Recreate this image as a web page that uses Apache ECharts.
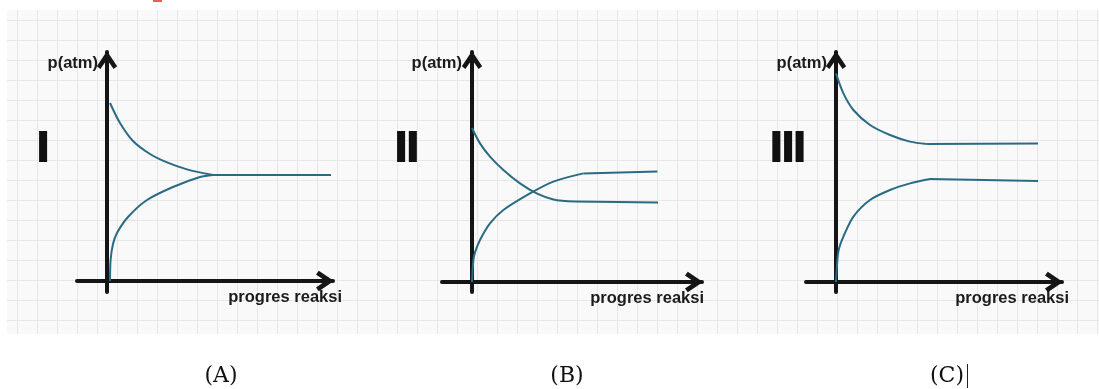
<!DOCTYPE html>
<html>
<head>
<meta charset="utf-8">
<title>progres reaksi</title>
<script src="https://cdn.jsdelivr.net/npm/echarts@6/dist/echarts.min.js"></script>
<style>
    html, body { margin: 0; padding: 0; background: #fff; }
    #wrap { position: relative; width: 1099px; height: 389px; overflow: hidden; }
    /* kertas berpetak di belakang grafik */
    #paper {
        position: absolute; left: 7px; top: 10px; width: 1092px; height: 324px;
        background-color: #f9f9f9;
        background-image:
            linear-gradient(to right, #e7e7e7 1px, transparent 1px),
            linear-gradient(to bottom, #e7e7e7 1px, transparent 1px);
        background-size: 20px 20px;
        background-position: 10px 10px;
    }
    #main { position: absolute; left: 0; top: 0; width: 1099px; height: 389px; }
</style>
</head>
<body>
<div id="wrap">
    <div id="paper"></div>
    <div id="main"></div>
</div>
<script>
// label panel
var numerals = ['I', 'II', 'III'];
var captions = ['(A)', '(B)', '(C)'];
var yName = 'p(atm)';
var xName = 'progres reaksi';

// grafik I : kedua kurva bertemu
var decA = [[0.15, 8.9], [0.65, 7.9], [1.3, 7.0], [2.15, 6.35], [3.0, 5.93], [4.0, 5.58], [5.3, 5.3]];
var incA = [[0.15, 0], [0.18, 1.05], [0.3, 1.85], [0.5, 2.4], [1.05, 3.2], [2.0, 4.05], [3.3, 4.7], [4.65, 5.2], [5.3, 5.3]];
var flatA = [[5.3, 5.3], [11.2, 5.3]];

// grafik II : kurva berpotongan
var decB = [[0, 7.7], [0.4, 6.93], [0.9, 6.27], [1.57, 5.6], [2.4, 4.93], [3.23, 4.43], [4.07, 4.13], [5.15, 4.02]];
var decBFlat = [[5.15, 4.02], [9.3, 3.98]];
var incB = [[0, 0], [0.07, 1.1], [0.15, 1.48], [0.4, 2.1], [0.9, 2.93], [1.57, 3.6], [2.9, 4.43], [4.07, 5.02], [5.57, 5.43]];
var incBFlat = [[5.57, 5.43], [9.27, 5.52]];

// grafik III : kurva tidak bertemu
var decC = [[0, 10.43], [0.37, 9.43], [0.87, 8.6], [1.7, 7.85], [2.7, 7.35], [3.7, 7.02], [4.53, 6.9]];
var decCFlat = [[4.53, 6.9], [10.1, 6.93]];
var incC = [[0, 0], [0.07, 1.1], [0.15, 1.68], [0.37, 2.27], [0.87, 3.27], [1.7, 4.1], [2.7, 4.6], [3.7, 4.93], [4.7, 5.15]];
var incCFlat = [[4.7, 5.15], [10.1, 5.05]];

var axisColor = '#151515';
var curveColor = '#2a6b84';
var arrowPath = 'path://M0 12 L8 0 L16 12 L13.2 14.2 L8 6.8 L2.8 14.2 Z';

var labelFont = {
    fontFamily: 'Liberation Sans',
    fontWeight: 'bold',
    fontSize: 16.5,
    color: '#1b1b1b'
};

// layout tiap panel (piksel) dan rentang sumbu
var panels = [
    { left: 77,  width: 256, xMin: -1.5, xMax: 11.3, yMin: -0.55, yMax: 11.45, xGap: 9, yPad: 9 },
    { left: 442, width: 260, xMin: -1.5, xMax: 11.5, yMin: -0.5,  yMax: 11.5,  xGap: 2, yPad: 10 },
    { left: 806, width: 256, xMin: -1.5, xMax: 11.3, yMin: -0.5,  yMax: 11.5,  xGap: 7, yPad: 9 }
];

var grids = [], xAxes = [], yAxes = [];
panels.forEach(function(p, i) {
    grids.push({ left: p.left, top: 52, width: p.width, height: 240 });
    xAxes.push({
        type: 'value', gridIndex: i, min: p.xMin, max: p.xMax,
        axisLine: {
            onZero: true,
            symbol: ['none', arrowPath],
            symbolSize: [23, 18],
            symbolOffset: [0, -8],
            lineStyle: { color: axisColor, width: 4 }
        },
        axisTick: { show: false },
        axisLabel: { show: false },
        splitLine: { show: false },
        name: xName,
        nameLocation: 'end',
        nameGap: p.xGap,
        nameTextStyle: Object.assign({
            align: 'right', verticalAlign: 'top', lineHeight: 16, padding: [8, 0, 0, 0]
        }, labelFont)
    });
    yAxes.push({
        type: 'value', gridIndex: i, min: p.yMin, max: p.yMax,
        axisLine: {
            onZero: true,
            symbol: ['none', arrowPath],
            symbolSize: [23, 18],
            symbolOffset: [0, -8],
            lineStyle: { color: axisColor, width: 4 }
        },
        axisTick: { show: false },
        axisLabel: { show: false },
        splitLine: { show: false },
        name: yName,
        nameLocation: 'end',
        nameGap: -11,
        nameTextStyle: Object.assign({
            align: 'right', verticalAlign: 'middle', padding: [0, p.yPad, 0, 0]
        }, labelFont)
    });
});

function curve(data, idx, smooth) {
    return {
        type: 'line',
        xAxisIndex: idx,
        yAxisIndex: idx,
        data: data,
        smooth: smooth ? 0.3 : false,
        showSymbol: false,
        silent: true,
        lineStyle: { color: curveColor, width: 2 },
        z: 1
    };
}

var series = [
    curve(decA, 0, true), curve(incA, 0, true), curve(flatA, 0, false),
    curve(decB, 1, true), curve(decBFlat, 1, false), curve(incB, 1, true), curve(incBFlat, 1, false),
    curve(decC, 2, true), curve(decCFlat, 2, false), curve(incC, 2, true), curve(incCFlat, 2, false)
];

// angka romawi dan keterangan (A), (B), (C)
var numeralPos = [[43, 149], [407, 149], [788, 149]];
var captionPos = [[221, 376], [567, 376], [947, 376]];
var graphics = [];
numerals.forEach(function(t, i) {
    graphics.push({
        type: 'text', x: numeralPos[i][0], y: numeralPos[i][1],
        style: {
            text: t, fill: '#111', stroke: '#111', lineWidth: 2,
            font: 'bold 42px "Liberation Sans"',
            align: 'center', verticalAlign: 'middle'
        }
    });
});
captions.forEach(function(t, i) {
    graphics.push({
        type: 'text', x: captionPos[i][0], y: captionPos[i][1],
        style: {
            text: t, fill: '#111',
            font: '22px "DejaVu Serif"',
            align: 'center', verticalAlign: 'middle'
        }
    });
});
// kursor teks setelah (C)
graphics.push({ type: 'line', shape: { x1: 967.5, y1: 364, x2: 967.5, y2: 388 }, style: { stroke: '#222', lineWidth: 1 } });
// potongan merah di tepi atas
graphics.push({ type: 'rect', shape: { x: 153, y: 0, width: 9, height: 2 }, style: { fill: '#ee5a5a' } });

var myChart = echarts.init(document.getElementById('main'));
myChart.setOption({
    animation: false,
    backgroundColor: 'transparent',
    grid: grids,
    xAxis: xAxes,
    yAxis: yAxes,
    series: series,
    graphic: graphics
});
</script>
</body>
</html>
